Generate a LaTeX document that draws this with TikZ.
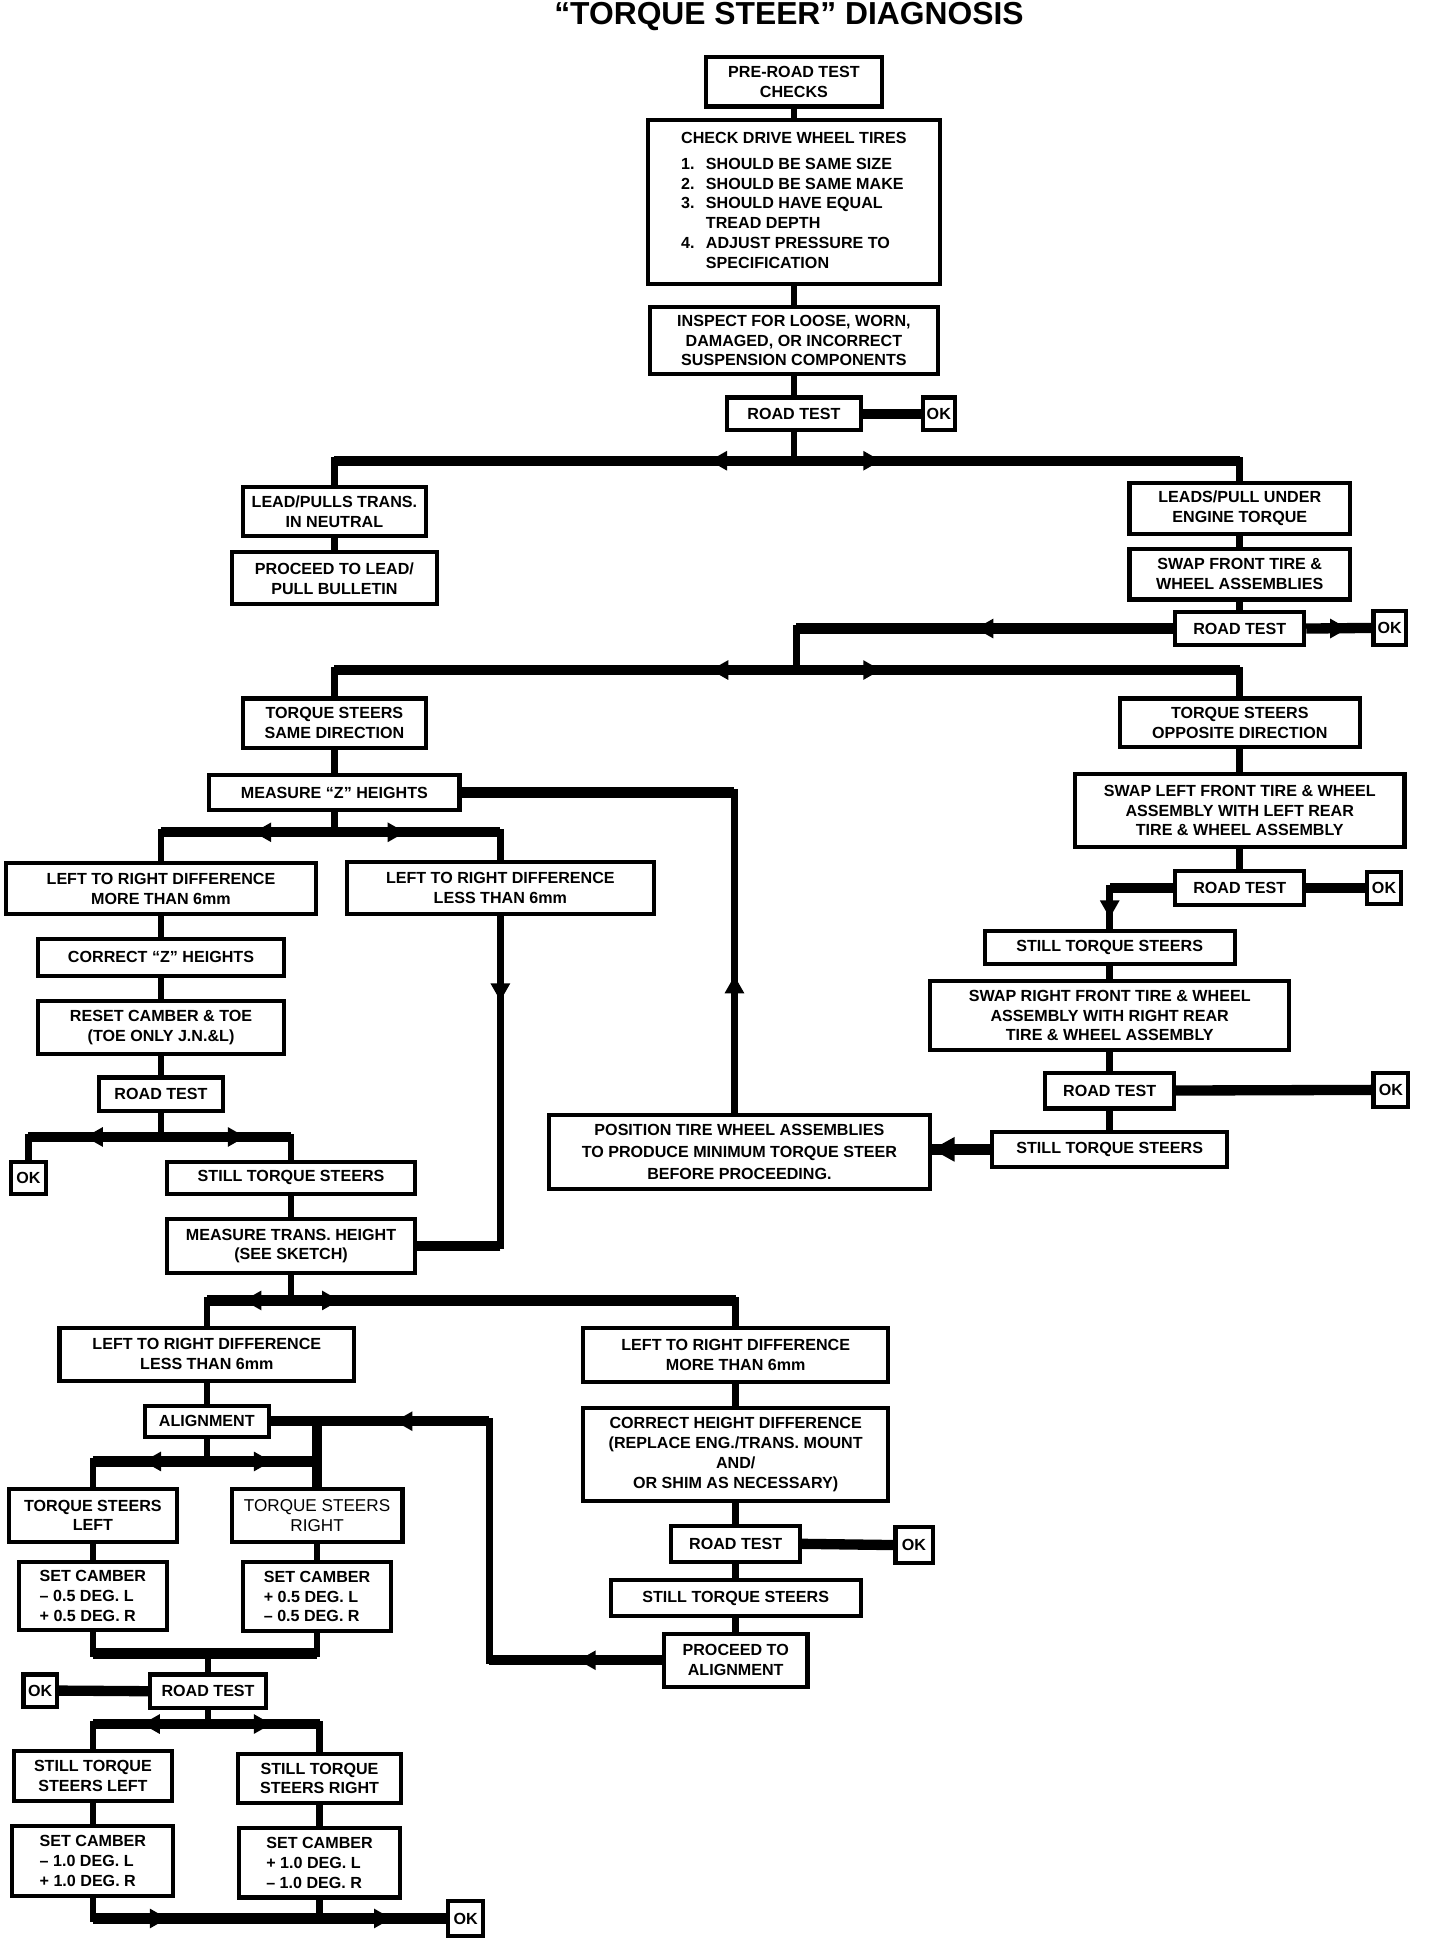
\documentclass[tikz,border=0pt]{standalone}
\usepackage{fontspec}
\setmainfont{Liberation Sans}
\tikzset{
 tbox/.style={draw, line width=2pt, inner sep=0pt, align=center, font=\fontsize{7.8}{9.6}\selectfont\bfseries},
 conn/.style={line width=3.2pt},
 bar/.style={line width=5pt},
}
\newcommand\bx[7][]{\node[tbox,#1, minimum width={(#5-#3)*0.6pt}, minimum height={(#6-#4)*0.6pt}] (#2) at ({(#3+#5)/2},{(#4+#6)/2}) {#7};}
\newcommand\tipL[2]{\fill (#1,#2) -- ++(14,-8) -- ++(0,16) -- cycle;}
\newcommand\tipR[2]{\fill (#1,#2) -- ++(-14,-8) -- ++(0,16) -- cycle;}
\newcommand\tipU[2]{\fill (#1,#2) -- ++(-8,14) -- ++(16,0) -- cycle;}
\newcommand\tipD[2]{\fill (#1,#2) -- ++(-8,-14) -- ++(16,0) -- cycle;}
\begin{document}
\begin{tikzpicture}[x=0.6pt,y=-0.6pt]
\useasboundingbox (0,0) rectangle (1163,1568);
\node[font=\fontsize{15.4}{15.4}\selectfont\bfseries] (title) at (637,13) {“TORQUE STEER” DIAGNOSIS};

% ---------- boxes ----------
\bx{A}{570}{46}{712}{86}{PRE-ROAD TEST\\CHECKS}
\bx{B}{523}{97}{759}{229}{\begin{tabular}{@{}l@{\hspace{5.5pt}}l@{}}\multicolumn{2}{@{}l@{}}{CHECK DRIVE WHEEL TIRES}\\[3pt]1. & SHOULD BE SAME SIZE\\2. & SHOULD BE SAME MAKE\\3. & SHOULD HAVE EQUAL\\ & TREAD DEPTH\\4. & ADJUST PRESSURE TO\\ & SPECIFICATION\end{tabular}}
\bx{C}{525}{248}{757}{302}{INSPECT FOR LOOSE, WORN,\\DAMAGED, OR INCORRECT\\SUSPENSION COMPONENTS}
\bx{D}{587}{321}{695}{347}{ROAD TEST}
\bx{okD}{745}{321}{771}{347}{OK}
\bx{E}{196}{393}{344}{433}{LEAD/PULLS TRANS.\\IN NEUTRAL}
\bx{G}{187}{446}{353}{488}{PROCEED TO LEAD/\\PULL BULLETIN}
\bx{F}{912}{390}{1090}{431}{LEADS/PULL UNDER\\ENGINE TORQUE}
\bx{H}{912}{443}{1090}{484}{SWAP FRONT TIRE \&\\WHEEL ASSEMBLIES}
\bx{I}{949}{494}{1053}{521}{ROAD TEST}
\bx{okI}{1109}{493}{1135}{521}{OK}
\bx{J}{196}{564}{344}{604}{TORQUE STEERS\\SAME DIRECTION}
\bx{K}{904}{564}{1098}{603}{TORQUE STEERS\\OPPOSITE DIRECTION}
\bx{L}{169}{626}{371}{654}{MEASURE “Z” HEIGHTS}
\bx{AL}{868}{625}{1134}{684}{SWAP LEFT FRONT TIRE \& WHEEL\\ASSEMBLY WITH LEFT REAR\\TIRE \& WHEEL ASSEMBLY}
\bx{AM}{949}{703}{1053}{731}{ROAD TEST}
\bx{okAM}{1104}{704}{1131}{730}{OK}
\bx{M}{5}{697}{255}{738}{LEFT TO RIGHT DIFFERENCE\\MORE THAN 6mm}
\bx{N}{280}{696}{528}{738}{LEFT TO RIGHT DIFFERENCE\\LESS THAN 6mm}
\bx{AN}{795}{752}{997}{778}{STILL TORQUE STEERS}
\bx{AO}{751}{792}{1041}{848}{SWAP RIGHT FRONT TIRE \& WHEEL\\ASSEMBLY WITH RIGHT REAR\\TIRE \& WHEEL ASSEMBLY}
\bx{AP}{844}{866}{948}{895}{ROAD TEST}
\bx{okAP}{1109}{866}{1137}{894}{OK}
\bx{AQ}{801}{914}{991}{942}{STILL TORQUE STEERS}
\bx{AR}{443}{900}{751}{960}{POSITION TIRE WHEEL ASSEMBLIES\\[1.2pt]TO PRODUCE MINIMUM TORQUE STEER\\[1.2pt]BEFORE PROCEEDING.}
\bx{O}{31}{758}{229}{788}{CORRECT “Z” HEIGHTS}
\bx{P}{31}{808}{229}{851}{RESET CAMBER \& TOE\\(TOE ONLY J.N.\&L)}
\bx{Q}{80}{870}{180}{897}{ROAD TEST}
\bx{okQ}{9}{938}{37}{964}{OK}
\bx{R}{135}{938}{335}{964}{STILL TORQUE STEERS}
\bx{U}{135}{984}{335}{1028}{MEASURE TRANS. HEIGHT\\(SEE SKETCH)}
\bx{V}{48}{1072}{286}{1115}{LEFT TO RIGHT DIFFERENCE\\LESS THAN 6mm}
\bx{W}{471}{1072}{717}{1116}{LEFT TO RIGHT DIFFERENCE\\MORE THAN 6mm}
\bx{X}{117}{1135}{217}{1160}{ALIGNMENT}
\bx{AI}{471}{1137}{717}{1212}{CORRECT HEIGHT DIFFERENCE\\(REPLACE ENG./TRANS. MOUNT\\AND/\\OR SHIM AS NECESSARY)}
\bx{Y}{7}{1202}{143}{1245}{TORQUE STEERS\\LEFT}
\bx[font=\fontsize{8.3}{9.6}\selectfont]{Z}{187}{1202}{325}{1245}{TORQUE STEERS\\RIGHT}
\bx[align=left]{AA}{15}{1261}{135}{1316}{SET CAMBER\\– 0.5 DEG. L\\+ 0.5 DEG. R}
\bx[align=left]{AB}{196}{1261}{316}{1317}{SET CAMBER\\+ 0.5 DEG. L\\– 0.5 DEG. R}
\bx{AJ}{542}{1232}{646}{1261}{ROAD TEST}
\bx{okAJ}{723}{1233}{753}{1262}{OK}
\bx{AK}{493}{1276}{695}{1305}{STILL TORQUE STEERS}
\bx{AD}{536}{1319}{652}{1362}{PROCEED TO\\ALIGNMENT}
\bx{AC}{121}{1352}{215}{1379}{ROAD TEST}
\bx{okAC}{19}{1352}{46}{1378}{OK}
\bx{AE}{11}{1414}{139}{1454}{STILL TORQUE\\STEERS LEFT}
\bx{AF}{192}{1416}{324}{1456}{STILL TORQUE\\STEERS RIGHT}
\bx[align=left]{AG}{10}{1474}{140}{1531}{SET CAMBER\\– 1.0 DEG. L\\+ 1.0 DEG. R}
\bx[align=left]{AH}{193}{1476}{323}{1532}{SET CAMBER\\+ 1.0 DEG. L\\– 1.0 DEG. R}
\bx{okB}{362}{1535}{390}{1563}{OK}

% ---------- connectors ----------
\draw[conn] (A.south) -- (B.north);
\draw[conn] (B.south) -- (C.north);
\draw[conn] (C.south) -- (D.north);
\draw[bar] (D.east) -- (okD.west);
\coordinate (j1) at (641,372);
\draw[conn] (D.south) -- (j1);
\draw[conn] (E.north) -- (E.north |- j1) -- (F.north |- j1) -- (F.north);
\draw[bar] (E.north |- j1) -- (F.north |- j1);
\tipL{573}{372} \tipR{711}{372}
\draw[conn] (E.south) -- (G.north);
\draw[conn] (F.south) -- (H.north);
\draw[conn] (H.south) -- (I.north);
\draw[bar] (I.east) -- (okI.west);
\tipR{1088}{507.5}
\coordinate (j2) at (643,541);
\draw[conn] (I.west) -- (I.west -| j2) -- (j2);
\draw[bar] (I.west) -- (I.west -| j2);
\tipL{788}{507.5}
\draw[conn] (J.north) -- (J.north |- j2) -- (K.north |- j2) -- (K.north);
\draw[bar] (J.north |- j2) -- (K.north |- j2);
\tipL{574}{541} \tipR{711}{541}
\draw[conn] (J.south) -- (L.north);
\coordinate (rt) at (593,640);
\draw[conn] (L.east) -- (rt) -- (rt |- AR.north);
\draw[bar] (L.east) -- (rt);
\tipU{593}{788}
\coordinate (j3) at (270,672);
\draw[conn] (L.south) -- (j3);
\draw[conn] (M.north) -- (M.north |- j3) -- (N.north |- j3) -- (N.north);
\draw[bar] (M.north |- j3) -- (N.north |- j3);
\tipL{205}{672} \tipR{327}{672}
\draw[conn] (M.south) -- (O.north);
\draw[conn] (O.south) -- (P.north);
\draw[conn] (P.south) -- (Q.north);
\draw[conn] (N.south) -- (N.south |- U.east) -- (U.east);
\draw[bar] (N.south |- U.east) -- (U.east);
\tipD{404}{808}
\coordinate (j4) at (130,918);
\draw[conn] (Q.south) -- (j4);
\draw[conn] (okQ.north) -- (okQ.north |- j4) -- (R.north |- j4) -- (R.north);
\draw[bar] (okQ.north |- j4) -- (R.north |- j4);
\tipL{69}{918} \tipR{198}{918}
\draw[conn] (R.south) -- (U.north);
\coordinate (j5) at (235,1050);
\draw[conn] (U.south) -- (j5);
\draw[conn] (V.north) -- (V.north |- j5) -- (W.north |- j5) -- (W.north);
\draw[bar] (V.north |- j5) -- (W.north |- j5);
\tipL{197}{1050} \tipR{274}{1050}
\draw[conn] (V.south) -- (X.north);
\coordinate (j6) at (167,1180);
\draw[conn] (X.south) -- (j6);
\draw[conn] (Y.north) -- (Y.north |- j6) -- (Z.north |- j6) -- (Z.north);
\draw[bar] (Y.north |- j6) -- (Z.north |- j6);
\tipL{116}{1180} \tipR{219}{1180}
\coordinate (rv) at (395,1147.5);
\draw[conn] (AD.west) -- (AD.west -| rv) -- (rv) -- (X.east);
\draw[bar] (AD.west) -- (AD.west -| rv);
\draw[bar] (rv) -- (X.east);
\draw[bar] (Z.north |- X.east) -- (Z.north);
\tipL{467}{1340.5} \tipL{319}{1147.5}
\draw[conn] (Y.south) -- (AA.north);
\draw[conn] (Z.south) -- (AB.north);
\coordinate (j7) at (168,1335);
\draw[conn] (AA.south) -- (AA.south |- j7) -- (AB.south |- j7) -- (AB.south);
\draw[bar] (AA.south |- j7) -- (AB.south |- j7);
\draw[conn] (j7) -- (AC.north);
\draw[bar] (AC.west) -- (okAC.east);
\coordinate (j8) at (168,1392);
\draw[conn] (AC.south) -- (j8);
\draw[conn] (AE.north) -- (AE.north |- j8) -- (AF.north |- j8) -- (AF.north);
\draw[bar] (AE.north |- j8) -- (AF.north |- j8);
\tipL{115}{1392} \tipR{219}{1392}
\draw[conn] (AE.south) -- (AG.north);
\draw[conn] (AF.south) -- (AH.north);
\draw[conn] (AG.south) -- (AG.south |- okB.west) -- (okB.west);
\draw[bar] (AG.south |- okB.west) -- (okB.west);
\draw[conn] (AH.south) -- (AH.south |- okB.west);
\tipR{135}{1549} \tipR{316}{1549}
\draw[conn] (W.south) -- (AI.north);
\draw[conn] (AI.south) -- (AJ.north);
\draw[bar] (AJ.east) -- (okAJ.west);
\draw[conn] (AJ.south) -- (AK.north);
\draw[conn] (AK.south) -- (AD.north);
\draw[conn] (K.south) -- (AL.north);
\draw[conn] (AL.south) -- (AM.north);
\draw[bar] (AM.east) -- (okAM.west);
\draw[conn] (AM.west) -- (AM.west -| AN.north) -- (AN.north);
\draw[bar] (AM.west) -- (AM.west -| AN.north);
\tipD{896}{741}
\draw[conn] (AN.south) -- (AO.north);
\draw[conn] (AO.south) -- (AP.north);
\draw[bar] (AP.east) -- (okAP.west);
\draw[conn] (AP.south) -- (AQ.north);
\draw[bar] (AQ.west) -- (AQ.west -| AR.east);
\fill (AQ.west -| AR.east) -- ++(18,-10) -- ++(0,20) -- cycle;
\end{tikzpicture}
\end{document}
